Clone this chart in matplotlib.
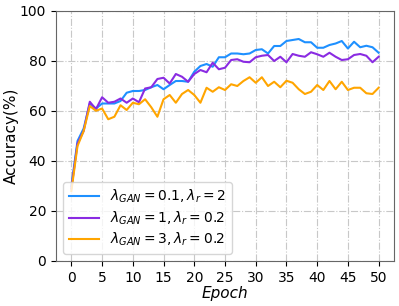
import numpy as np
import matplotlib
matplotlib.use('Agg')
import matplotlib.pyplot as plt

epochs = np.arange(0, 51)

acc_01_2 = [30, 48, 53, 63, 61, 63, 63, 63, 64, 67.3, 68, 68, 68.4, 69.5, 70.4, 68.7, 70.4,
            72, 72, 71.7, 75.7, 78, 78.8, 77.7, 81.5, 81.5, 83, 83, 82.7, 83, 84.4, 84.7, 83,
            86, 86, 88, 88.4, 88.8, 87.5, 87.5, 85.3, 85.3, 86.4, 87, 88, 85, 87.7, 85.5, 86.1,
            85.5, 83.3]
acc_1_02 = [29, 47, 52, 63.7, 60.7, 65.5, 63.3, 63.7, 65, 63.3, 65, 63.5, 69, 69.5, 72.8, 73.3,
            71, 74.8, 73.7, 71.7, 74.8, 76.4, 75.5, 79.3, 76.7, 77.3, 80.4, 80.7, 79.7, 79.5,
            81.5, 82.1, 82.4, 80, 81.7, 79.5, 82.8, 82.1, 81.7, 83.5, 82.7, 81.7, 83.3, 81.7,
            80.4, 80.7, 82.4, 82.8, 82.1, 79.5, 81.7]
acc_3_02 = [28, 46, 52, 62, 60.1, 61, 56.7, 57.7, 62.3, 60.4, 63.3, 62.7, 64.7, 61.5, 57.7, 64.7,
            66.4, 63.3, 66.8, 68.4, 66.4, 63.3, 69.3, 67.7, 69.5, 68.4, 70.7, 70, 72, 73.5,
            71.3, 73.5, 70, 71.7, 69.5, 72.1, 71.3, 68.7, 66.8, 67.7, 70.4, 68.4, 72, 68.7,
            71.7, 68.4, 69.3, 69.3, 67.1, 66.8, 69.3]

labels = [r'$\lambda_{GAN}=0.1, \lambda_r=2$',
          r'$\lambda_{GAN}=1, \lambda_r=0.2$',
          r'$\lambda_{GAN}=3, \lambda_r=0.2$']
colors = ['dodgerblue', 'blueviolet', 'orange']

fig = plt.figure(figsize=(3.99, 3.06), dpi=100)
ax = fig.add_axes([56 / 399, 45 / 306, 338 / 399, 250 / 306])

for y, lab, c in zip([acc_01_2, acc_1_02, acc_3_02], labels, colors):
    ax.plot(epochs, y, color=c, lw=1.5, label=lab)

ax.set_ylim(0, 100)
ax.set_xticks(np.arange(0, 51, 5))
ax.set_yticks(np.arange(0, 101, 20))
ax.tick_params(labelsize=10)
ax.grid(True, linestyle='-.', color='#c8c8c8', lw=0.8)
ax.set_xlabel('Epoch', fontsize=11, fontstyle='italic', labelpad=1)
ax.set_ylabel('Accuracy(%)', fontsize=11, labelpad=1)
for s in ax.spines.values():
    s.set_color('#666666')
ax.legend(loc='lower left', fontsize=10, handlelength=2.2, labelspacing=0.3)

fig.savefig('out.png', dpi=100)
